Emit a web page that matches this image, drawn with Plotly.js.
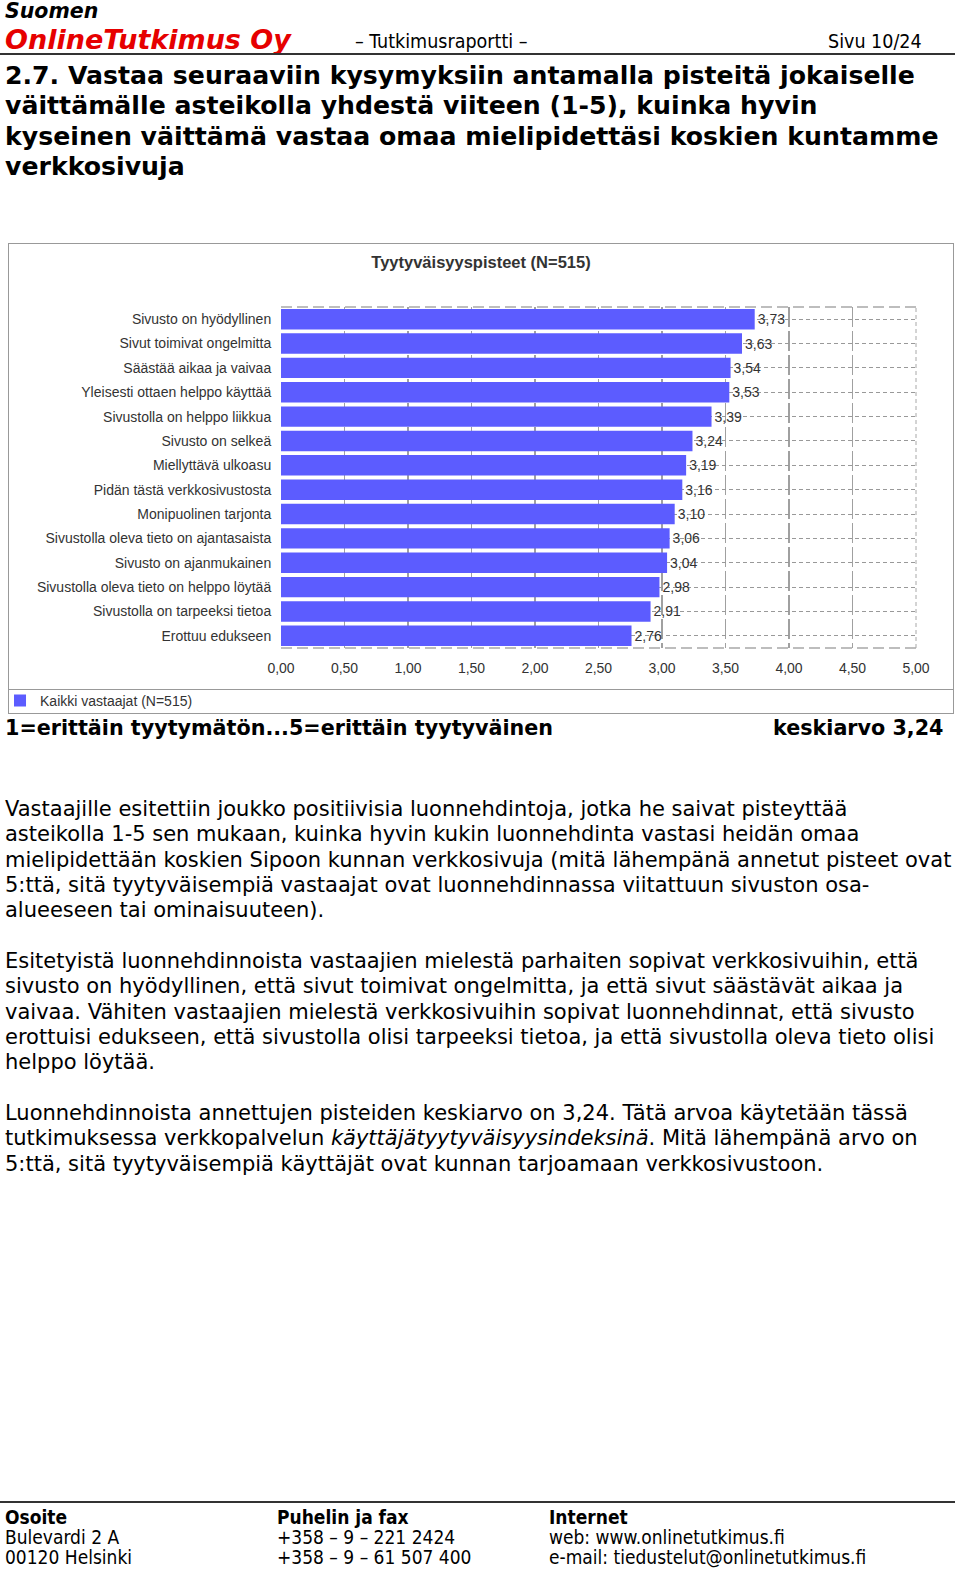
<!DOCTYPE html>
<html><head><meta charset="utf-8">
<script src="https://cdn.plot.ly/plotly-3.0.1.min.js"></script>
<style>
html,body{margin:0;padding:0;width:960px;height:1576px;overflow:hidden;background:#fff}
body{position:relative;font-family:"DejaVu Sans",Verdana,sans-serif;color:#000}
.a{position:absolute;white-space:nowrap}
.f{font-family:'DejaVu Sans Condensed','DejaVu Sans';font-size:19px;line-height:20px}
</style></head><body>
<div class="a" style="left:5px;top:1.5px;font-family:'DejaVu Sans';font-weight:bold;font-style:italic;font-size:20.5px;line-height:18px;">Suomen</div>
<div class="a" style="left:5px;top:25.5px;font-family:'DejaVu Sans';font-weight:bold;font-style:italic;font-size:27px;line-height:28px;color:#e60000;">OnlineTutkimus Oy</div>
<div class="a" style="left:355px;top:30px;font-family:'DejaVu Sans Condensed';font-size:19.5px;">– Tutkimusraportti –</div>
<div class="a" style="left:828px;top:30px;font-family:'DejaVu Sans Condensed';font-size:19.5px;">Sivu 10/24</div>
<div class="a" style="left:0;top:53px;width:955px;height:2px;background:#333"></div>

<div class="a" style="left:5px;top:61px;font-weight:bold;font-size:25.2px;line-height:30.3px;">2.7. Vastaa seuraaviin kysymyksiin antamalla pisteitä jokaiselle<br>väittämälle asteikolla yhdestä viiteen (1-5), kuinka hyvin<br>kyseinen väittämä vastaa omaa mielipidettäsi koskien kuntamme<br>verkkosivuja</div>

<div class="a" style="left:8px;top:243px;width:946px;height:471px;box-sizing:border-box;border:1px solid #999;">
  <div id="chart" style="width:944px;height:469px;"></div>
  <div class="a" style="left:0;top:445px;width:944px;height:1px;background:#999"></div>
</div>

<div class="a" style="left:5px;top:716px;font-weight:bold;font-size:20.7px;">1=erittäin tyytymätön...5=erittäin tyytyväinen</div>
<div class="a" style="left:773px;top:716px;font-weight:bold;font-size:20.7px;">keskiarvo 3,24</div>

<div class="a" style="left:5px;top:797px;font-size:21px;line-height:25.3px;">Vastaajille esitettiin joukko positiivisia luonnehdintoja, jotka he saivat pisteyttää<br>asteikolla 1-5 sen mukaan, kuinka hyvin kukin luonnehdinta vastasi heidän omaa<br>mielipidettään koskien Sipoon kunnan verkkosivuja (mitä lähempänä annetut pisteet ovat<br>5:ttä, sitä tyytyväisempiä vastaajat ovat luonnehdinnassa viitattuun sivuston osa-<br>alueeseen tai ominaisuuteen).</div>

<div class="a" style="left:5px;top:949px;font-size:21px;line-height:25.3px;">Esitetyistä luonnehdinnoista vastaajien mielestä parhaiten sopivat verkkosivuihin, että<br>sivusto on hyödyllinen, että sivut toimivat ongelmitta, ja että sivut säästävät aikaa ja<br>vaivaa. Vähiten vastaajien mielestä verkkosivuihin sopivat luonnehdinnat, että sivusto<br>erottuisi edukseen, että sivustolla olisi tarpeeksi tietoa, ja että sivustolla oleva tieto olisi<br>helppo löytää.</div>

<div class="a" style="left:5px;top:1101px;font-size:21px;line-height:25.3px;">Luonnehdinnoista annettujen pisteiden keskiarvo on 3,24. Tätä arvoa käytetään tässä<br>tutkimuksessa verkkopalvelun <i>käyttäjätyytyväisyysindeksinä</i>. Mitä lähempänä arvo on<br>5:ttä, sitä tyytyväisempiä käyttäjät ovat kunnan tarjoamaan verkkosivustoon.</div>

<div class="a" style="left:0;top:1501px;width:955px;height:2px;background:#333"></div>
<div class="a f" style="left:5px;top:1507px;"><b>Osoite</b><br>Bulevardi 2 A<br>00120 Helsinki</div>
<div class="a f" style="left:277px;top:1507px;"><b>Puhelin ja fax</b><br>+358 – 9 – 221 2424<br>+358 – 9 – 61 507 400</div>
<div class="a f" style="left:549px;top:1507px;"><b>Internet</b><br>web: www.onlinetutkimus.fi<br>e-mail: tiedustelut@onlinetutkimus.fi</div>

<script>
const categories = [
  "Sivusto on hyödyllinen",
  "Sivut toimivat ongelmitta",
  "Säästää aikaa ja vaivaa",
  "Yleisesti ottaen helppo käyttää",
  "Sivustolla on helppo liikkua",
  "Sivusto on selkeä",
  "Miellyttävä ulkoasu",
  "Pidän tästä verkkosivustosta",
  "Monipuolinen tarjonta",
  "Sivustolla oleva tieto on ajantasaista",
  "Sivusto on ajanmukainen",
  "Sivustolla oleva tieto on helppo löytää",
  "Sivustolla on tarpeeksi tietoa",
  "Erottuu edukseen"
];
const scores = [3.73, 3.63, 3.54, 3.53, 3.39, 3.24, 3.19, 3.16, 3.10, 3.06, 3.04, 2.98, 2.91, 2.76];
const xTicks = [0, 0.5, 1, 1.5, 2, 2.5, 3, 3.5, 4, 4.5, 5];
const seriesName = "Kaikki vastaajat (N=515)";
const chartTitle = "Tyytyväisyyspisteet (N=515)";

const F = "Liberation Sans, Arial";
const trace = {
  type: "bar", orientation: "h",
  x: scores, y: categories, name: seriesName,
  marker: {color: "#5c5cff", line: {width: 0}},
  texttemplate: "%{x:.2f}", textposition: "outside", cliponaxis: false,
  textfont: {family: F, size: 14, color: "#333"},
  hoverinfo: "x+y"
};
const layout = {
  width: 944, height: 469,
  separators: ", ",
  paper_bgcolor: "#fff", plot_bgcolor: "#fff",
  font: {family: F, size: 14, color: "#333"},
  title: {text: "<b>" + chartTitle + "</b>", x: 0.5, xref: "container", xanchor: "center", y: 0.962, yref: "container", yanchor: "middle",
          font: {family: F, size: 16.5, color: "#333"}},
  margin: {l: 272, r: 37, t: 63, b: 65, pad: 0, autoexpand: false},
  bargap: 0.16,
  showlegend: true,
  legend: {x: -0.4425, xref: "paper", y: -0.155, yref: "paper", xanchor: "left", yanchor: "middle",
           font: {family: F, size: 14, color: "#333"}, itemwidth: 30},
  xaxis: {range: [0, 5], tickvals: xTicks, tickformat: ".2f", showgrid: true, gridcolor: "#a0a0a0", gridwidth: 1.6,
          griddash: "20px,4px", zeroline: false, showline: false, ticks: "outside", ticklen: 7, tickcolor: "rgba(0,0,0,0)",
          automargin: false, fixedrange: true},
  yaxis: {autorange: "reversed", showgrid: true, gridcolor: "#999", gridwidth: 1, griddash: "4px,3px",
          ticks: "outside", ticklen: 6, tickcolor: "rgba(0,0,0,0)", showline: false, zeroline: false,
          automargin: false, fixedrange: true},
  shapes: [
    {type: "line", xref: "paper", yref: "paper", x0: 0, x1: 1, y0: 1, y1: 1, line: {color: "#a8a8a8", width: 1.5, dash: "11px,5px"}},
    {type: "line", xref: "paper", yref: "paper", x0: 0, x1: 1, y0: 0, y1: 0, line: {color: "#a8a8a8", width: 1.5, dash: "11px,5px"}},
    {type: "line", xref: "paper", yref: "paper", x0: 1, x1: 1, y0: 0, y1: 1, line: {color: "#a8a8a8", width: 1, dash: "4px,3px"}}
  ]
};
Plotly.newPlot("chart", [trace], layout, {staticPlot: true});
</script>
</body></html>
